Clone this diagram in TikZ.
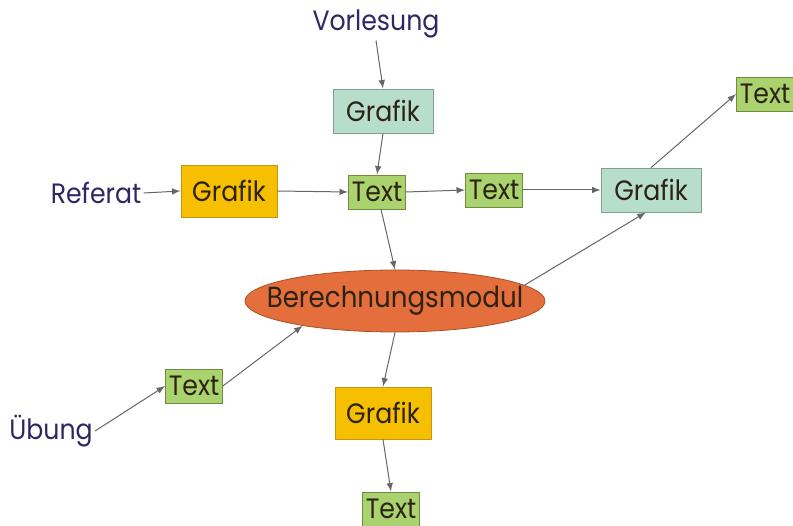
\documentclass[tikz,border=0pt]{standalone}
\usepackage{fontspec}
\setmainfont{Poppins}[FakeStretch=0.9]
\usepackage{xcolor}
\usepackage{tikz}
\usetikzlibrary{shapes,arrows,positioning,calc}
\definecolor{mintbox}{RGB}{183,221,203}
\definecolor{mintline}{RGB}{130,160,145}
\definecolor{goldbox}{RGB}{246,192,0}
\definecolor{goldline}{RGB}{196,150,20}
\definecolor{leafbox}{RGB}{170,210,110}
\definecolor{leafline}{RGB}{110,140,60}
\definecolor{modulfill}{RGB}{228,110,60}
\definecolor{modulline}{RGB}{170,80,40}
\definecolor{inkblue}{RGB}{45,40,100}
\definecolor{inkdark}{RGB}{45,35,20}

\tikzset{
  grafikmint/.style={draw=mintline, fill=mintbox, text=inkdark, minimum width=50bp, minimum height=22bp, inner sep=1bp, font=\fontsize{14bp}{16bp}\selectfont},
  grafikgold/.style={draw=goldline, fill=goldbox, text=inkdark, minimum width=48bp, minimum height=26bp, inner sep=1bp, font=\fontsize{14bp}{16bp}\selectfont},
  textbox/.style={draw=leafline, fill=leafbox, text=inkdark, minimum width=28.5bp, minimum height=17bp, inner sep=0.5bp, font=\fontsize{14bp}{16bp}\selectfont},
  quelle/.style={text=inkblue, inner sep=1bp, font=\fontsize{14bp}{16bp}\selectfont},
  link/.style={->, draw=black!60, line width=0.5bp}
}

\begin{document}
\begin{tikzpicture}[x=0.5bp, y=-0.5bp, >=latex]
        \useasboundingbox (0,0) rectangle (793,526);

        % Quellen
        \node[quelle] (vorlesung) at (376,24) {Vorlesung};
        \node[quelle] (referat) at (96,193) {Referat};
        \node[quelle] (uebung) at (51,431) {Übung};

        % obere Reihe
        \node[grafikmint] (grafikT) at (383,111) {Grafik};
        \node[grafikgold] (grafikL) at (229,191) {Grafik};
        \node[textbox] (textM) at (377,192) {Text};
        \node[textbox] (textR) at (494,190) {Text};
        \node[grafikmint] (grafikR) at (651,190) {Grafik};
        \node[textbox] (textTR) at (765,94) {Text};

        % Berechnungsmodul
        \node[ellipse, draw=modulline, fill=modulfill, text=inkdark, minimum width=150bp, minimum height=31bp, inner xsep=-25bp, inner ysep=0pt, font=\fontsize{14.5bp}{16bp}\selectfont] (modul) at (395,301) {Berechnungsmodul};

        % untere Knoten
        \node[textbox] (textL) at (194,386) {Text};
        \node[grafikgold] (grafikB) at (383,413) {Grafik};
        \node[textbox] (textB) at (391,509) {Text};

        % Verbindungen
        \draw[link] (vorlesung.south) -- (grafikT.north);
        \draw[link] (grafikT.south) -- (textM.north);
        \draw[link] (referat.east) -- (grafikL.west);
        \draw[link] (grafikL.east) -- (textM.west);
        \draw[link] (textM.east) -- (textR.west);
        \draw[link] (textR.east) -- (grafikR.west);
        \draw[link] (grafikR.north) -- (textTR.west);
        \draw[link] (textM) -- (modul.north);
        \draw[link] (modul.7) -- (grafikR.257);
        \draw[link] (uebung.east) -- (textL.west);
        \draw[link] (textL.east) -- (modul.195);
        \draw[link] (modul.south) -- (grafikB.north);
        \draw[link] (grafikB.south) -- (textB.north);
    \end{tikzpicture}
\end{document}
